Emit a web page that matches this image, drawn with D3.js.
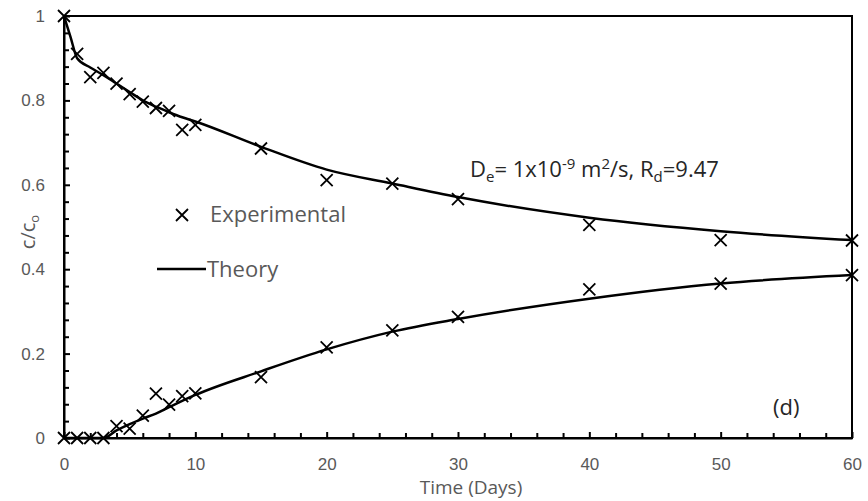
<!DOCTYPE html>
<html>
<head>
<meta charset="utf-8">
<script src="https://cdn.jsdelivr.net/npm/d3@7"></script>
<style>
  body { margin: 0; background: #fff; }
  svg { font-family: "Open Sans", Lato, sans-serif; }
</style>
</head>
<body>
<svg id="chart" width="868" height="501"></svg>
<script>
// experimental points (time in days, c/c0)
const expTime = [0, 1, 2, 3, 4, 5, 6, 7, 8, 9, 10, 15, 20, 25, 30, 40, 50, 60];
const expUpper = [1.0, 0.91, 0.855, 0.865, 0.84, 0.815, 0.797, 0.782, 0.775, 0.73, 0.742, 0.686, 0.611, 0.603, 0.566, 0.505, 0.469, 0.468];
const expLower = [0, 0, 0, 0, 0.028, 0.022, 0.053, 0.105, 0.079, 0.099, 0.106, 0.144, 0.215, 0.255, 0.287, 0.352, 0.366, 0.386];

// theory curves
const theoryUpperTime = [0, 0.5, 1, 2, 3, 4, 5, 6, 7, 8, 9, 10, 15, 20, 25, 30, 40, 50, 60];
const theoryUpper = [1.0, 0.95, 0.9, 0.878, 0.86, 0.84, 0.82, 0.80, 0.785, 0.772, 0.76, 0.75, 0.69, 0.636, 0.603, 0.571, 0.522, 0.49, 0.469];
const theoryLowerTime = [0, 1, 2, 3, 4, 5, 6, 7, 8, 9, 10, 15, 20, 25, 30, 40, 50, 60];
const theoryLower = [0, 0, 0, 0, 0.018, 0.033, 0.046, 0.058, 0.073, 0.088, 0.102, 0.158, 0.21, 0.252, 0.282, 0.33, 0.366, 0.386];

const xTicks = [0, 10, 20, 30, 40, 50, 60];
const yTicks = [0, 0.2, 0.4, 0.6, 0.8, 1];

const svg = d3.select("#chart");
const plotLeft = 64, plotRight = 852, plotTop = 16, plotBottom = 438;

const x = d3.scaleLinear().domain([0, 60]).range([plotLeft, plotRight]);
const y = d3.scaleLinear().domain([0, 1]).range([plotBottom, plotTop]);

const grey = "#595959";

// plot box (top / right border)
svg.append("rect")
    .attr("x", plotLeft).attr("y", plotTop)
    .attr("width", plotRight - plotLeft).attr("height", plotBottom - plotTop)
    .attr("fill", "none")
    .attr("stroke", "black")
    .attr("stroke-width", 2);

// minor ticks
const xMinor = d3.range(0, 61, 2).filter(d => d % 10 !== 0);
svg.append("g")
    .attr("transform", `translate(0,${plotBottom})`)
    .call(d3.axisBottom(x).tickValues(xMinor).tickSizeInner(-5).tickSizeOuter(0).tickFormat(""))
    .call(g => g.select(".domain").remove())
    .selectAll("line").attr("stroke-width", 2);

const yMinor = d3.range(0, 1.001, 0.04).filter(d => Math.abs(d * 5 - Math.round(d * 5)) > 1e-6);
svg.append("g")
    .attr("transform", `translate(${plotLeft},0)`)
    .call(d3.axisLeft(y).tickValues(yMinor).tickSizeInner(-5).tickSizeOuter(0).tickFormat(""))
    .call(g => g.select(".domain").remove())
    .selectAll("line").attr("stroke-width", 2);

// major axes
const xAxis = svg.append("g")
    .attr("transform", `translate(0,${plotBottom})`)
    .call(d3.axisBottom(x).tickValues(xTicks).tickSizeInner(-6).tickSizeOuter(0).tickPadding(20));
xAxis.select(".domain").attr("stroke-width", 2);
xAxis.selectAll("line").attr("stroke-width", 2);
xAxis.selectAll("text").attr("fill", grey).style("font-size", "17px");

const yAxis = svg.append("g")
    .attr("transform", `translate(${plotLeft},0)`)
    .call(d3.axisLeft(y).tickValues(yTicks).tickSizeInner(-6).tickSizeOuter(0).tickPadding(19)
        .tickFormat(d => d3.format("")(d)));
yAxis.select(".domain").attr("stroke-width", 2);
yAxis.selectAll("line").attr("stroke-width", 2);
yAxis.selectAll("text").attr("fill", grey).style("font-size", "17px");

// theory lines
const line = d3.line()
    .x(d => x(d[0]))
    .y(d => y(d[1]))
    .curve(d3.curveMonotoneX);

svg.append("path")
    .datum(d3.zip(theoryUpperTime, theoryUpper))
    .attr("d", line)
    .attr("fill", "none").attr("stroke", "black").attr("stroke-width", 2.5);

svg.append("path")
    .datum(d3.zip(theoryLowerTime, theoryLower))
    .attr("d", line)
    .attr("fill", "none").attr("stroke", "black").attr("stroke-width", 2.5);

// experimental markers
const cross = 6;
function drawCrosses(g, pts) {
    g.selectAll("path")
        .data(pts)
        .join("path")
        .attr("d", d => {
            const cx = x(d[0]), cy = y(d[1]);
            return `M${cx - cross},${cy - cross}L${cx + cross},${cy + cross}M${cx - cross},${cy + cross}L${cx + cross},${cy - cross}`;
        })
        .attr("stroke", "black")
        .attr("stroke-width", 1.8);
}
drawCrosses(svg.append("g"), d3.zip(expTime, expUpper));
drawCrosses(svg.append("g"), d3.zip(expTime, expLower));

// legend
const legend = svg.append("g");
legend.append("path")
    .attr("d", "M176,209L188,221M176,221L188,209")
    .attr("stroke", "black").attr("stroke-width", 1.8);
legend.append("text")
    .attr("x", 210).attr("y", 222)
    .attr("fill", grey).style("font-size", "22px")
    .text("Experimental");
legend.append("line")
    .attr("x1", 157).attr("x2", 206).attr("y1", 269).attr("y2", 269)
    .attr("stroke", "black").attr("stroke-width", 2.5);
legend.append("text")
    .attr("x", 207).attr("y", 277)
    .attr("fill", grey).style("font-size", "22px")
    .text("Theory");

// annotation
const ann = svg.append("text")
    .attr("x", 470).attr("y", 177)
    .attr("fill", "#262626").style("font-size", "22px");
ann.append("tspan").text("D");
ann.append("tspan").attr("dy", 5).style("font-size", "15px").text("e");
ann.append("tspan").attr("dy", -5).text("= 1x10");
ann.append("tspan").attr("dy", -8).style("font-size", "15px").text("-9");
ann.append("tspan").attr("dy", 8).text(" m");
ann.append("tspan").attr("dy", -8).style("font-size", "15px").text("2");
ann.append("tspan").attr("dy", 8).text("/s, R");
ann.append("tspan").attr("dy", 5).style("font-size", "15px").text("d");
ann.append("tspan").attr("dy", -5).text("=9.47");

svg.append("text")
    .attr("x", 773).attr("y", 415)
    .attr("fill", "#262626").style("font-size", "22px")
    .text("(d)");

// axis titles
svg.append("text")
    .attr("x", 471).attr("y", 494)
    .attr("text-anchor", "middle")
    .attr("fill", grey).style("font-size", "19px")
    .text("Time (Days)");

const yl = svg.append("text")
    .attr("transform", "translate(35,232) rotate(-90)")
    .attr("text-anchor", "middle")
    .attr("fill", grey).style("font-size", "20px");
yl.append("tspan").text("c/c");
yl.append("tspan").attr("dy", 4).style("font-size", "13px").text("o");
</script>
</body>
</html>
